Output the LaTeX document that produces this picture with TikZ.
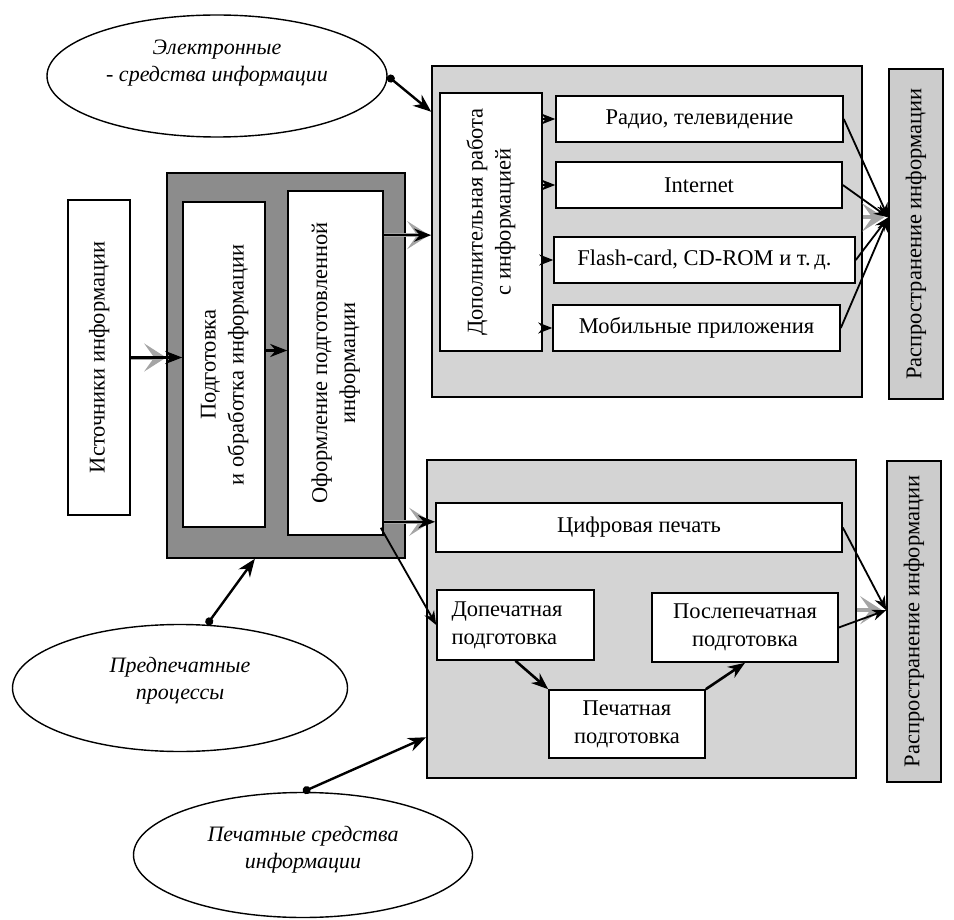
\documentclass[tikz,border=0pt]{standalone}
\usepackage{fontspec}
\setmainfont{Liberation Serif}
\usetikzlibrary{shapes.geometric,arrows.meta,calc}

\begin{document}
\begin{tikzpicture}[x=1pt,y=-1pt, font=\fontsize{22.5}{28}\selectfont]

    % Цвета
    \definecolor{groupgray}{RGB}{212,212,212}
    \definecolor{prepgray}{RGB}{140,140,140}
    \definecolor{distgray}{RGB}{204,204,204}
    \definecolor{ghostgray}{RGB}{165,165,165}

    % Стили
    \tikzset{
        box/.style={draw, fill=white, line width=1.6pt, inner sep=2pt, align=center},
        group/.style={draw, fill=groupgray, line width=1.6pt, inner sep=0pt},
        oval/.style={draw, ellipse, line width=1.4pt, inner sep=0pt, align=center,
            font=\fontsize{22}{27}\selectfont\itshape},
        arr/.style={line width=2.6pt, -{Stealth[length=17pt,width=13pt]}},
        thinarr/.style={line width=1.8pt, -{Stealth[length=14pt,width=11pt]}},
        ghost/.style={draw=ghostgray, line width=4pt,
            -{Stealth[length=22pt,width=28pt,inset=10pt]}},
        dotarr/.style={line width=2.4pt,
            {Circle[length=8pt]}-{Stealth[length=18pt,width=14pt]}},
    }

    % Повёрнутый текст
    \newcommand{\rotlines}[1]{%
        \rotatebox{90}{\begin{tabular}{@{}c@{}}#1\end{tabular}}%
    }

    \useasboundingbox (0,0) rectangle (954,920);

    % Группы
    \node[group, minimum width=430, minimum height=331] (grpE) at (647,231.5) {};
    \node[group, minimum width=429, minimum height=318] (grpP) at (641.5,619) {};
    \node[group, fill=prepgray, minimum width=238, minimum height=385] (prep) at (286,365.5) {};

    % Распространение
    \node[group, fill=distgray, minimum width=54, minimum height=330] (distA) at (916,234)
        {\rotatebox{90}{Распространение информации}};
    \node[group, fill=distgray, minimum width=54, minimum height=321] (distP) at (914,621.5)
        {\rotatebox{90}{Распространение информации}};

    % Левая часть
    \node[box, minimum width=62, minimum height=315] (src) at (99,357.5)
        {\rotlines{Источники информации}};
    \node[box, minimum width=82, minimum height=325] (podg) at (224,364.5)
        {\rotlines{Подготовка\\и обработка информации}};
    \node[box, minimum width=95, minimum height=344] (oform) at (335.5,363)
        {\rotlines{Оформление подготовленной\\информации}};

    % Электронные средства
    \node[box, minimum width=102, minimum height=258] (dop) at (491,222)
        {\rotlines{Дополнительная работа\\с информацией}};
    \node[box, minimum width=287, minimum height=46] (radio) at (699.5,119) {Радио, телевидение};
    \node[box, minimum width=286, minimum height=46] (inet) at (699,185) {Internet};
    \node[box, minimum width=301, minimum height=46] (flash) at (704.5,260) {Flash-card, CD-ROM и т.\,д.};
    \node[box, minimum width=287, minimum height=46] (mob) at (696.5,328) {Мобильные приложения};

    % Печатные средства
    \node[box, minimum width=406, minimum height=49] (cifr) at (639,527.5) {Цифровая печать};
    \node[box, minimum width=157, minimum height=70, text width=128, align=left]
        (dopech) at (515.5,625) {Допечатная\\подготовка};
    \node[box, minimum width=186, minimum height=69] (post) at (745,627.5) {Послепечатная\\подготовка};
    \node[box, minimum width=156, minimum height=68] (pech) at (627,724) {Печатная\\подготовка};

    % Эллипсы
    \node[oval, minimum width=340, minimum height=122, text depth=30pt] (el1) at (217,76)
        {Электронные\\- средства информации};
    \node[oval, minimum width=335, minimum height=127, text depth=20pt] (el2) at (180,688)
        {Предпечатные\\процессы};
    \node[oval, minimum width=339, minimum height=125, text depth=16pt] (el3) at (303,855)
        {Печатные средства\\информации};

    % Точки входа
    \coordinate (inE) at ($(grpE.north west)!0.14!(grpE.south west)$);
    \coordinate (inP) at ($(grpP.north west)!0.87!(grpP.south west)$);
    \coordinate (inPrep) at ($(prep.south west)!0.37!(prep.south east)$);
    \coordinate (hubA) at ($(distA.north west)!0.45!(distA.south west)$);
    \coordinate (hubP) at ($(distP.north west)!0.465!(distP.south west)$);
    \coordinate (oformA) at ($(oform.north east)!0.13!(oform.south east)$);
    \coordinate (oformB) at ($(oform.south east)+(0,-14)$);

    % Серые стрелки
    \draw[ghost] (src.east) -- ($(src.east -| podg.west)+(-16,0)$);
    \draw[ghost] (oformA) -- ($(oformA -| grpE.west)+(-2,0)$);
    \draw[ghost] (oformB) -- ($(oformB -| cifr.west)+(-4,0)$);
    \draw[ghost] (grpE.east |- hubA) -- ($(hubA)+(-4,0)$);
    \draw[ghost] (grpP.east |- hubP) -- ($(hubP)+(-4,0)$);

    % Стрелки
    \draw[dotarr] (el1.east) -- (inE);
    \draw[dotarr] (el2.67) -- (inPrep);
    \draw[dotarr] (el3.north) -- (inP);

    \draw[arr] (src.east) -- (src.east -| podg.west);
    \draw[arr] ($(podg.east)+(0,-14)$) -- ($(podg.east -| oform.west)+(0,-14)$);
    \draw[arr] (oformA) -- (oformA -| grpE.west);
    \draw[arr] (oformB) -- (oformB -| cifr.west);
    \draw[thinarr] ($(oform.south east)+(-3,-8)$) -- (dopech.west);

    \foreach \n in {radio,inet,flash,mob}
        \draw[thinarr] (dop.east |- \n) -- (\n.west);
    \foreach \n in {radio,inet,flash,mob}
        \draw[thinarr] (\n.east) -- (hubA);

    \draw[arr] (dopech.south) -- (pech.north west);
    \draw[arr] (pech.north east) -- (post.south);
    \draw[thinarr] (cifr.east) -- (hubP);
    \draw[thinarr] (post.east) -- (hubP);

\end{tikzpicture}
\end{document}
